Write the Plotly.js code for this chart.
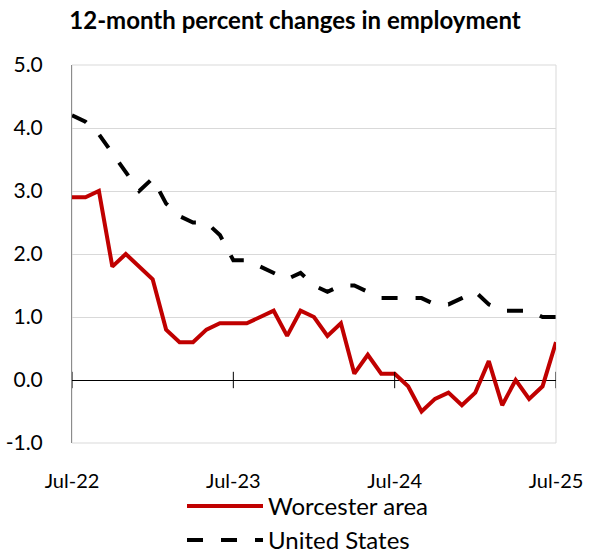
<!DOCTYPE html>
<html>
<head>
<meta charset="utf-8">
<script src="https://cdn.plot.ly/plotly-3.0.1.min.js"></script>
<style>html,body{margin:0;padding:0;background:#fff;}#chart{width:590px;height:553px;}</style>
</head>
<body>
<div id="chart"></div>
<script>
const months = ["Jul-22","Aug-22","Sep-22","Oct-22","Nov-22","Dec-22","Jan-23","Feb-23","Mar-23","Apr-23","May-23","Jun-23",
  "Jul-23","Aug-23","Sep-23","Oct-23","Nov-23","Dec-23","Jan-24","Feb-24","Mar-24","Apr-24","May-24","Jun-24",
  "Jul-24","Aug-24","Sep-24","Oct-24","Nov-24","Dec-24","Jan-25","Feb-25","Mar-25","Apr-25","May-25","Jun-25","Jul-25"];
const worcester = [2.9,2.9,3.0,1.8,2.0,1.8,1.6,0.8,0.6,0.6,0.8,0.9,
  0.9,0.9,1.0,1.1,0.7,1.1,1.0,0.7,0.9,0.1,0.4,0.1,
  0.1,-0.1,-0.5,-0.3,-0.2,-0.4,-0.2,0.3,-0.4,0.0,-0.3,-0.1,0.6];
const unitedStates = [4.2,4.1,3.9,3.6,3.3,3.0,3.2,2.8,2.6,2.5,2.5,2.3,
  1.9,1.9,1.8,1.7,1.6,1.7,1.5,1.4,1.5,1.5,1.4,1.3,
  1.3,1.3,1.3,1.2,1.2,1.3,1.4,1.2,1.1,1.1,1.1,1.0,1.0];
const xTickLabels = ["Jul-22","Jul-23","Jul-24","Jul-25"];
const yTicks = [-1,0,1,2,3,4,5];
const yTickText = yTicks.map(function (v) { return v.toFixed(1); });

const FONT = "Lato, 'Noto Sans', sans-serif";

const traces = [
  {x: months, y: worcester, type: "scatter", mode: "lines", name: "Worcester area",
   line: {color: "#c00000", width: 4}},
  {x: months, y: unitedStates, type: "scatter", mode: "lines", name: "United States",
   line: {color: "#000000", width: 4, dash: "16px,18px"}}
];

const shapes = [
  {type: "rect", xref: "paper", yref: "paper", x0: 0, x1: 1, y0: 0, y1: 1,
   line: {color: "#d9d9d9", width: 1}, layer: "below"}
];
xTickLabels.forEach(function (m) {
  shapes.push({type: "line", xref: "x", yref: "y", x0: m, x1: m, y0: -0.13, y1: 0.13,
    line: {color: "#000000", width: 1}});
});

const layout = {
  width: 590, height: 553,
  margin: {l: 72, r: 34, t: 65, b: 110, autoexpand: false},
  paper_bgcolor: "#ffffff", plot_bgcolor: "#ffffff",
  font: {family: FONT, color: "#000000", size: 20},
  title: {text: "<b>12-month percent changes in employment</b>", font: {family: FONT, size: 24, color: "#000"},
    x: 0.5, xanchor: "center", y: 0.963, yanchor: "middle"},
  xaxis: {type: "category", categoryorder: "array", categoryarray: months,
    range: [0, months.length - 1], tickvals: xTickLabels, ticktext: xTickLabels, tickangle: 0,
    showgrid: false, zeroline: false, showline: false, ticks: "", ticklabelstandoff: 24,
    tickfont: {size: 20}},
  yaxis: {range: [-1, 5], tickvals: yTicks, ticktext: yTickText, showgrid: true, gridcolor: "#d9d9d9", gridwidth: 1,
    zeroline: true, zerolinecolor: "#000000", zerolinewidth: 1,
    showline: true, linecolor: "#8c8c8c", linewidth: 1, ticks: "", ticklabelstandoff: 24,
    tickfont: {size: 21}},
  showlegend: true,
  legend: {orientation: "v", x: (182 - 72) / 484, xanchor: "left",
    y: -0.108, yanchor: "top", maxheight: 300,
    font: {size: 24}, tracegroupgap: 0, itemwidth: 76, bgcolor: "rgba(0,0,0,0)"},
  shapes: shapes
};

Plotly.newPlot("chart", traces, layout, {displayModeBar: false, staticPlot: true});
</script>
</body>
</html>
